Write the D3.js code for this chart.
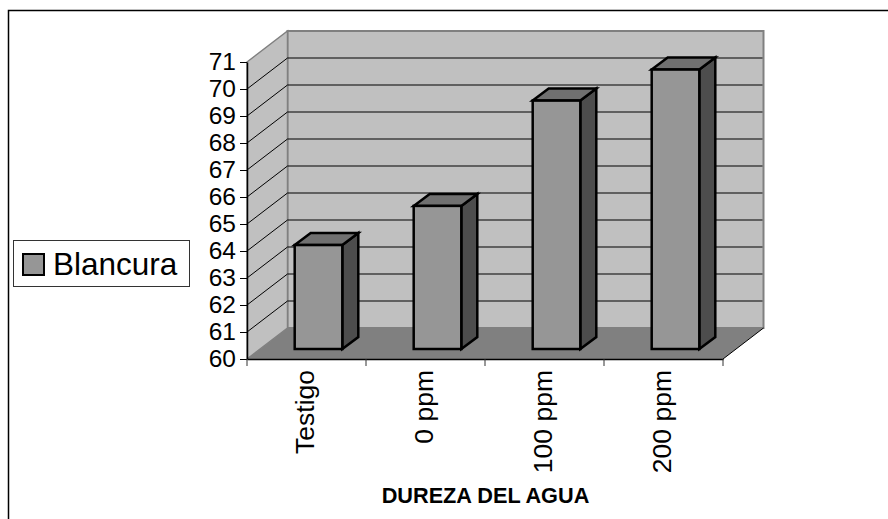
<!DOCTYPE html>
<html lang="en">
<head>
  <meta charset="UTF-8">
  <title>Blancura</title>
  <script src="https://d3js.org/d3.v7.min.js"></script>
  <style>
    body { margin: 0; background: #fff; }
    svg { display: block; }
    text { font-family: "Liberation Sans", Arial, sans-serif; fill: #000; }
    .axis path { stroke: #000; stroke-width: 1.5px; }
    .axis line { stroke: #000; stroke-width: 1px; }
  </style>
</head>
<body>
  <svg width="888" height="519"></svg>

  <script>
    const categories = ["Testigo", "0 ppm", "100 ppm", "200 ppm"];
    const blancura = [63.85, 65.3, 69.2, 70.35];
    const yTicks = [60, 61, 62, 63, 64, 65, 66, 67, 68, 69, 70, 71];
    const seriesName = "Blancura";
    const xTitle = "DUREZA DEL AGUA";

    const svg = d3.select("svg");

    // front plane of the 3d box and how far the back wall is shifted
    const x = d3.scaleBand().domain(categories).range([247, 723]).paddingInner(0.6).paddingOuter(0.3);
    const y = d3.scaleLinear().domain([60, 71]).range([359, 62]);
    const wallDx = 40.5, wallDy = -31;
    const barDx = 12, barDy = -10;     // bar front sits a bit inside the floor
    const depthDx = 16, depthDy = -12; // bar depth

    const x0 = x.range()[0], x1 = x.range()[1];
    const yMin = y(60), yMax = y(71);

    const poly = pts => pts.map(p => p.join(",")).join(" ");

    // outer frame
    svg.append("rect")
      .attr("x", 8.5).attr("y", 10.5)
      .attr("width", 900).attr("height", 600)
      .attr("fill", "none").attr("stroke", "#000").attr("stroke-width", 1.5);

    // back wall
    svg.append("polygon")
      .attr("points", poly([[x0 + wallDx, yMax + wallDy], [x1 + wallDx, yMax + wallDy], [x1 + wallDx, yMin + wallDy], [x0 + wallDx, yMin + wallDy]]))
      .attr("fill", "#c0c0c0").attr("stroke", "#808080").attr("stroke-width", 2);

    // side wall
    svg.append("polygon")
      .attr("points", poly([[x0, yMax], [x0 + wallDx, yMax + wallDy], [x0 + wallDx, yMin + wallDy], [x0, yMin]]))
      .attr("fill", "#c0c0c0").attr("stroke", "#808080").attr("stroke-width", 1.5);

    // floor
    svg.append("polygon")
      .attr("points", poly([[x0, yMin], [x1, yMin], [x1 + wallDx, yMin + wallDy], [x0 + wallDx, yMin + wallDy]]))
      .attr("fill", "#808080");

    // gridlines, side wall and back wall
    const grid = svg.append("g");
    yTicks.slice(1, -1).forEach(t => {
      grid.append("line")
        .attr("x1", x0 + wallDx).attr("x2", x1 + wallDx - 1)
        .attr("y1", y(t) + wallDy).attr("y2", y(t) + wallDy)
        .attr("stroke", "#000");
      grid.append("line")
        .attr("x1", x0).attr("x2", x0 + wallDx)
        .attr("y1", y(t)).attr("y2", y(t) + wallDy)
        .attr("stroke", "#000");
    });

    // floor right edge
    svg.append("line")
      .attr("x1", x1).attr("y1", yMin)
      .attr("x2", x1 + wallDx).attr("y2", yMin + wallDy)
      .attr("stroke", "#000");

    // bars
    const bars = svg.append("g")
      .selectAll("g")
      .data(categories.map((c, i) => ({ c, v: blancura[i] })))
      .enter().append("g")
      .attr("stroke", "#000").attr("stroke-width", 2.5).attr("stroke-linejoin", "miter");

    bars.append("polygon")
      .attr("fill", "#4d4d4d")
      .attr("points", d => {
        const r = x(d.c) + x.bandwidth() + barDx, t = y(d.v) + barDy, b = yMin + barDy;
        return poly([[r, t], [r + depthDx, t + depthDy], [r + depthDx, b + depthDy], [r, b]]);
      });

    bars.append("polygon")
      .attr("fill", "#707070")
      .attr("points", d => {
        const l = x(d.c) + barDx, r = l + x.bandwidth(), t = y(d.v) + barDy;
        return poly([[l, t], [r, t], [r + depthDx, t + depthDy], [l + depthDx, t + depthDy]]);
      });

    bars.append("rect")
      .attr("fill", "#969696")
      .attr("x", d => x(d.c) + barDx)
      .attr("y", d => y(d.v) + barDy)
      .attr("width", x.bandwidth())
      .attr("height", d => yMin - y(d.v));

    // axes
    const yAxis = svg.append("g")
      .attr("class", "axis")
      .attr("transform", `translate(${x0},0)`)
      .call(d3.axisLeft(y).tickValues(yTicks).tickSize(7).tickPadding(4).tickSizeOuter(0));
    yAxis.selectAll("text").style("font-size", "24.5px").attr("dy", "0.3em");

    const xAxis = svg.append("g")
      .attr("class", "axis")
      .attr("transform", `translate(0,${yMin})`)
      .call(d3.axisBottom(x).tickSize(0).tickFormat(""));
    xAxis.selectAll(".tick").remove();

    // ticks between categories
    const step = x.step();
    d3.range(0, categories.length + 1).forEach(i => {
      svg.append("line")
        .attr("x1", x0 + i * step).attr("x2", x0 + i * step)
        .attr("y1", yMin).attr("y2", yMin + 7)
        .attr("stroke", "#333");
    });

    // category labels, rotated
    svg.append("g").selectAll("text")
      .data(categories)
      .enter().append("text")
      .attr("transform", d => `translate(${x(d) + x.bandwidth() / 2 + 7},370) rotate(-90)`)
      .attr("text-anchor", "end")
      .style("font-size", "26.5px")
      .text(d => d);

    // axis title
    svg.append("text")
      .attr("x", 485.5).attr("y", 503)
      .attr("text-anchor", "middle")
      .style("font-size", "21.7px").style("font-weight", "bold")
      .text(xTitle);

    // legend
    svg.append("rect")
      .attr("x", 13.5).attr("y", 240.5).attr("width", 176).attr("height", 46)
      .attr("fill", "#fff").attr("stroke", "#333");
    svg.append("rect")
      .attr("x", 23).attr("y", 254).attr("width", 21).attr("height", 21)
      .attr("fill", "#969696").attr("stroke", "#000").attr("stroke-width", 2);
    svg.append("text")
      .attr("x", 53).attr("y", 275)
      .style("font-size", "31.5px")
      .text(seriesName);
  </script>
</body>
</html>
